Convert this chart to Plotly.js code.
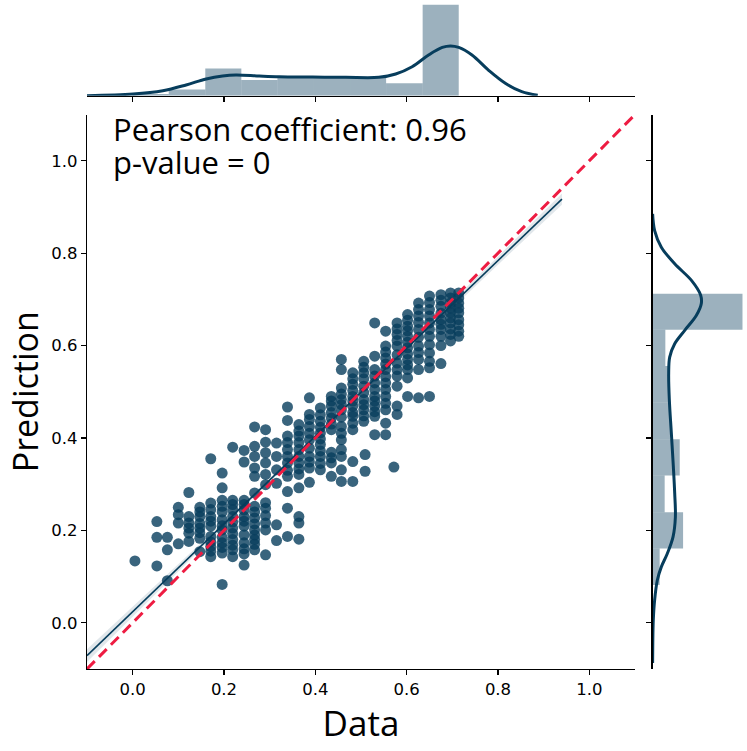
<!DOCTYPE html>
<html>
<head>
<meta charset="utf-8">
<script src="https://cdn.plot.ly/plotly-3.0.1.min.js"></script>
<style>
  html, body { margin: 0; padding: 0; background: white; }
  #plotDiv { width: 747px; height: 751px; }
</style>
</head>
<body>
<div id="plotDiv"></div>
<script>
// scatter points (x = Data, y = Prediction)
var dataX = [
  0.005,
  0.053, 0.053, 0.053,
  0.076, 0.076, 0.076,
  0.100, 0.100, 0.100, 0.100,
  0.123, 0.123, 0.123, 0.123, 0.123, 0.123,
  0.147, 0.147, 0.147, 0.147, 0.147, 0.147, 0.147, 0.147,
  0.171, 0.171, 0.171, 0.171, 0.171, 0.171, 0.171, 0.171, 0.171, 0.171, 0.171,
  0.196, 0.196, 0.196, 0.196, 0.196, 0.196, 0.196, 0.196, 0.196, 0.196, 0.196, 0.196, 0.196,
  0.219, 0.219, 0.219, 0.219, 0.219, 0.219, 0.219, 0.219, 0.219, 0.219, 0.219, 0.219,
  0.244, 0.244, 0.244, 0.244, 0.244, 0.244, 0.244, 0.244, 0.244, 0.244, 0.244, 0.244, 0.244,
  0.267, 0.267, 0.267, 0.267, 0.267, 0.267, 0.267, 0.267, 0.267, 0.267, 0.267, 0.267, 0.267, 0.267, 0.267,
  0.291, 0.291, 0.291, 0.291, 0.291, 0.291, 0.291, 0.291, 0.291, 0.291, 0.291, 0.291,
  0.315, 0.315, 0.315, 0.315, 0.315, 0.315,
  0.339, 0.339, 0.339, 0.339, 0.339, 0.339, 0.339, 0.339, 0.339, 0.339, 0.339, 0.339,
  0.364, 0.364, 0.364, 0.364, 0.364, 0.364, 0.364, 0.364, 0.364, 0.364, 0.364, 0.364, 0.364,
  0.387, 0.387, 0.387, 0.387, 0.387, 0.387, 0.387, 0.387, 0.387, 0.387, 0.387,
  0.411, 0.411, 0.411, 0.411, 0.411, 0.411, 0.411, 0.411, 0.411, 0.411, 0.411,
  0.435, 0.435, 0.435, 0.435, 0.435, 0.435, 0.435, 0.435, 0.435, 0.435, 0.435,
  0.457, 0.457, 0.457, 0.457, 0.457, 0.457, 0.457, 0.457, 0.457, 0.457, 0.457, 0.457, 0.457, 0.457, 0.457,
  0.482, 0.482, 0.482, 0.482, 0.482, 0.482, 0.482, 0.482, 0.482, 0.482, 0.482, 0.482, 0.482,
  0.506, 0.506, 0.506, 0.506, 0.506, 0.506, 0.506, 0.506, 0.506, 0.506, 0.506, 0.509, 0.509,
  0.530, 0.530, 0.530, 0.530, 0.530, 0.530, 0.530, 0.530, 0.530, 0.530, 0.530, 0.530,
  0.554, 0.554, 0.554, 0.554, 0.554, 0.554, 0.554, 0.554, 0.554, 0.554, 0.554, 0.554, 0.554, 0.554,
  0.579, 0.579, 0.579, 0.579, 0.579, 0.579, 0.579, 0.579, 0.579, 0.579, 0.579, 0.579, 0.572,
  0.602, 0.602, 0.602, 0.602, 0.602, 0.602, 0.602, 0.602, 0.602, 0.602, 0.602, 0.602, 0.602,
  0.626, 0.626, 0.626, 0.626, 0.626, 0.626, 0.626, 0.626, 0.626, 0.626, 0.626,
  0.650, 0.650, 0.650, 0.650, 0.650, 0.650, 0.650, 0.650, 0.650, 0.650, 0.650, 0.650,
  0.675, 0.675, 0.675, 0.675, 0.675, 0.675, 0.675, 0.675, 0.675, 0.675,
  0.696, 0.696, 0.696, 0.696, 0.696, 0.696, 0.696, 0.696, 0.696, 0.696,
  0.714, 0.714, 0.714, 0.714, 0.714, 0.714, 0.714, 0.714, 0.714
];
var predY = [
  0.134,
  0.123, 0.219, 0.185,
  0.091, 0.185, 0.158,
  0.171, 0.250, 0.234, 0.216,
  0.282, 0.216, 0.194, 0.176, 0.205, 0.230,
  0.250, 0.230, 0.205, 0.183, 0.154, 0.240, 0.215, 0.195,
  0.355, 0.259, 0.230, 0.209, 0.187, 0.165, 0.143, 0.220, 0.175, 0.155, 0.245,
  0.083, 0.324, 0.292, 0.252, 0.223, 0.201, 0.173, 0.151, 0.240, 0.210, 0.185, 0.163, 0.265,
  0.380, 0.256, 0.230, 0.205, 0.180, 0.158, 0.143, 0.245, 0.218, 0.193, 0.168, 0.265,
  0.373, 0.348, 0.256, 0.230, 0.209, 0.173, 0.149, 0.125, 0.244, 0.220, 0.190, 0.160, 0.265,
  0.424, 0.382, 0.360, 0.335, 0.317, 0.281, 0.252, 0.227, 0.201, 0.180, 0.158, 0.240, 0.214, 0.190, 0.170,
  0.418, 0.391, 0.368, 0.346, 0.321, 0.299, 0.248, 0.216, 0.201, 0.147, 0.232, 0.260,
  0.389, 0.360, 0.331, 0.302, 0.212, 0.178,
  0.467, 0.438, 0.404, 0.375, 0.346, 0.317, 0.284, 0.248, 0.187, 0.360, 0.390, 0.330,
  0.429, 0.404, 0.375, 0.346, 0.321, 0.292, 0.230, 0.216, 0.181, 0.390, 0.360, 0.333, 0.415,
  0.487, 0.451, 0.425, 0.396, 0.360, 0.335, 0.304, 0.440, 0.410, 0.378, 0.348,
  0.465, 0.436, 0.411, 0.386, 0.360, 0.331, 0.450, 0.423, 0.398, 0.372, 0.345,
  0.490, 0.469, 0.443, 0.418, 0.369, 0.346, 0.317, 0.480, 0.455, 0.430, 0.357,
  0.570, 0.548, 0.508, 0.483, 0.461, 0.425, 0.396, 0.360, 0.331, 0.306, 0.495, 0.472, 0.445, 0.410, 0.375,
  0.541, 0.516, 0.490, 0.469, 0.447, 0.418, 0.349, 0.306, 0.528, 0.503, 0.480, 0.455, 0.432,
  0.566, 0.541, 0.512, 0.483, 0.461, 0.436, 0.553, 0.528, 0.498, 0.472, 0.448, 0.364, 0.328,
  0.649, 0.577, 0.548, 0.519, 0.490, 0.469, 0.447, 0.407, 0.534, 0.505, 0.480, 0.457,
  0.631, 0.599, 0.573, 0.548, 0.519, 0.490, 0.461, 0.432, 0.407, 0.586, 0.560, 0.533, 0.505, 0.475,
  0.649, 0.624, 0.599, 0.562, 0.534, 0.512, 0.469, 0.451, 0.611, 0.636, 0.580, 0.548, 0.337,
  0.667, 0.642, 0.620, 0.595, 0.570, 0.548, 0.530, 0.490, 0.655, 0.632, 0.607, 0.582, 0.558,
  0.692, 0.664, 0.635, 0.599, 0.570, 0.548, 0.487, 0.678, 0.650, 0.618, 0.585,
  0.707, 0.678, 0.649, 0.620, 0.602, 0.584, 0.566, 0.552, 0.490, 0.693, 0.664, 0.635,
  0.710, 0.685, 0.656, 0.635, 0.561, 0.698, 0.670, 0.646, 0.620, 0.600,
  0.714, 0.692, 0.671, 0.649, 0.624, 0.703, 0.681, 0.660, 0.636, 0.610,
  0.714, 0.692, 0.671, 0.656, 0.631, 0.703, 0.681, 0.645, 0.620
];

// fitted regression line and its confidence band
var fitX = [-0.1, 0.0, 0.1, 0.2, 0.4, 0.6, 0.8, 0.94];
var fitY = [-0.071, 0.024, 0.119, 0.214, 0.404, 0.594, 0.784, 0.917];
var fitBand = [0.014, 0.011, 0.008, 0.005, 0.004, 0.006, 0.009, 0.012];

// identity line
var idealX = [-0.1, 1.1];
var idealY = [-0.1, 1.1];

// top marginal: histogram of Data (density) and its kde
var dataBinEdges = [0.0, 0.079, 0.159, 0.238, 0.317, 0.397, 0.476, 0.555, 0.635, 0.714];
var dataBinDensity = [0.10, 0.38, 1.65, 0.95, 1.09, 1.09, 1.09, 0.75, 5.51];
var dataKdeX = [-0.101, 0.001, 0.066, 0.117, 0.161, 0.197, 0.226, 0.277, 0.321, 0.394, 0.467,
                0.539, 0.576, 0.612, 0.648, 0.678, 0.696, 0.714, 0.743, 0.779, 0.816, 0.852, 0.887];
var dataKdeY = [0.0, 0.10, 0.30, 0.65, 1.01, 1.19, 1.25, 1.19, 1.15, 1.13, 1.11,
                1.11, 1.31, 1.75, 2.46, 2.92, 3.01, 2.92, 2.46, 1.55, 0.75, 0.24, 0.02];

// right marginal: histogram of Prediction (density) and its kde
var predBinEdges = [0.082, 0.161, 0.239, 0.319, 0.397, 0.477, 0.556, 0.634, 0.712];
var predBinDensity = [0.42, 1.82, 0.72, 1.62, 1.04, 0.92, 0.76, 5.37];
var predKdeY = [0.885, 0.849, 0.813, 0.777, 0.741, 0.709, 0.691, 0.665, 0.633, 0.604, 0.575, 0.539,
                0.482, 0.410, 0.337, 0.280, 0.229, 0.186, 0.150, 0.121, 0.092, 0.049, 0.006, -0.044, -0.087];
var predKdeX = [0.0, 0.12, 0.52, 1.32, 2.32, 2.87, 2.91, 2.61, 1.92, 1.32, 1.02, 0.96,
                1.00, 1.12, 1.24, 1.32, 1.36, 1.22, 0.88, 0.52, 0.28, 0.12, 0.04, 0.01, 0.0];

var tickVals = [0.0, 0.2, 0.4, 0.6, 0.8, 1.0];
var tickText = ['0.0', '0.2', '0.4', '0.6', '0.8', '1.0'];

var statLines = ['Pearson coefficient: 0.96', 'p-value = 0'];

var base = '#073d5c';

function centers(edges) {
    var c = [];
    for (var i = 0; i < edges.length - 1; i++) c.push((edges[i] + edges[i + 1]) / 2);
    return c;
}
function widths(edges) {
    var w = [];
    for (var i = 0; i < edges.length - 1; i++) w.push(edges[i + 1] - edges[i]);
    return w;
}

var bandUpper = fitY.map(function (v, i) { return v + fitBand[i]; });
var bandLower = fitY.map(function (v, i) { return v - fitBand[i]; });

var data = [
    {   // top histogram
        type: 'bar', x: centers(dataBinEdges), y: dataBinDensity, width: widths(dataBinEdges),
        xaxis: 'x2', yaxis: 'y2',
        marker: { color: base, opacity: 0.4, line: { width: 0 } },
        hoverinfo: 'skip'
    },
    {
        type: 'scatter', mode: 'lines', x: dataKdeX, y: dataKdeY,
        xaxis: 'x2', yaxis: 'y2',
        line: { color: base, width: 3, shape: 'spline' }
    },
    {   // right histogram
        type: 'bar', orientation: 'h', y: centers(predBinEdges), x: predBinDensity, width: widths(predBinEdges),
        xaxis: 'x3', yaxis: 'y3',
        marker: { color: base, opacity: 0.4, line: { width: 0 } },
        hoverinfo: 'skip'
    },
    {
        type: 'scatter', mode: 'lines', x: predKdeX, y: predKdeY,
        xaxis: 'x3', yaxis: 'y3',
        line: { color: base, width: 3, shape: 'spline' }
    },
    {   // joint scatter
        type: 'scatter', mode: 'markers', x: dataX, y: predY,
        marker: { color: base, size: 11, opacity: 0.8, line: { width: 0 } }
    },
    {
        type: 'scatter', mode: 'lines', x: fitX, y: bandUpper,
        line: { width: 0, color: 'rgba(0,0,0,0)' }, hoverinfo: 'skip'
    },
    {
        type: 'scatter', mode: 'lines', x: fitX, y: bandLower, fill: 'tonexty',
        fillcolor: 'rgba(7,61,92,0.12)',
        line: { width: 0, color: 'rgba(0,0,0,0)' }, hoverinfo: 'skip'
    },
    {
        type: 'scatter', mode: 'lines', x: fitX, y: fitY,
        line: { color: base, width: 1.6 }
    },
    {
        type: 'scatter', mode: 'lines', x: idealX, y: idealY,
        line: { color: '#ee1c42', width: 3, dash: '11px,6px' }
    }
];

var axisCommon = {
    showline: true, linecolor: '#000', linewidth: 1.2,
    ticks: 'outside', ticklen: 5, tickwidth: 1.2, tickcolor: '#000',
    showgrid: false, zeroline: false,
    tickvals: tickVals, ticktext: tickText,
    tickfont: { family: 'DejaVu Sans', size: 16.5, color: '#000' },
    range: [-0.1, 1.1], automargin: false
};

// both stat lines in one text; the outer size sets the line spacing, the span the glyph size
var statText = statLines.map(function (s) {
    return '<span style="font-size:31px">' + s + '</span>';
}).join('<br>');

var layout = {
    width: 747, height: 751,
    margin: { l: 87, r: 0, t: 0, b: 82 },
    paper_bgcolor: 'white', plot_bgcolor: 'white',
    showlegend: false,
    font: { family: 'Open Sans' },
    xaxis: Object.assign({}, axisCommon, {
        domain: [0, 0.8303], anchor: 'y',
        title: { text: 'Data', font: { family: 'Open Sans', size: 35, color: '#000' }, standoff: 2 }
    }),
    yaxis: Object.assign({}, axisCommon, {
        domain: [0, 0.8288], anchor: 'x',
        title: { text: 'Prediction', font: { family: 'Open Sans', size: 34, color: '#000' }, standoff: 2 }
    }),
    xaxis2: Object.assign({}, axisCommon, {
        domain: [0, 0.8303], anchor: 'y2', matches: 'x', showticklabels: false
    }),
    yaxis2: { domain: [0.857, 1], anchor: 'x2', range: [0, 5.79], visible: false, fixedrange: true },
    xaxis3: { domain: [0.857, 1], anchor: 'y3', range: [0, 5.64], visible: false },
    yaxis3: Object.assign({}, axisCommon, {
        domain: [0, 0.8288], anchor: 'x3', matches: 'y', showticklabels: false
    }),
    annotations: [
        { text: statText, xref: 'paper', yref: 'paper', x: 0.0385, y: 0.7825,
          xanchor: 'left', yanchor: 'middle', align: 'left', showarrow: false, borderpad: 0,
          font: { family: 'Open Sans', size: 25.4, color: '#000' } }
    ]
};

Plotly.newPlot('plotDiv', data, layout, { staticPlot: true, displayModeBar: false });
</script>
</body>
</html>
